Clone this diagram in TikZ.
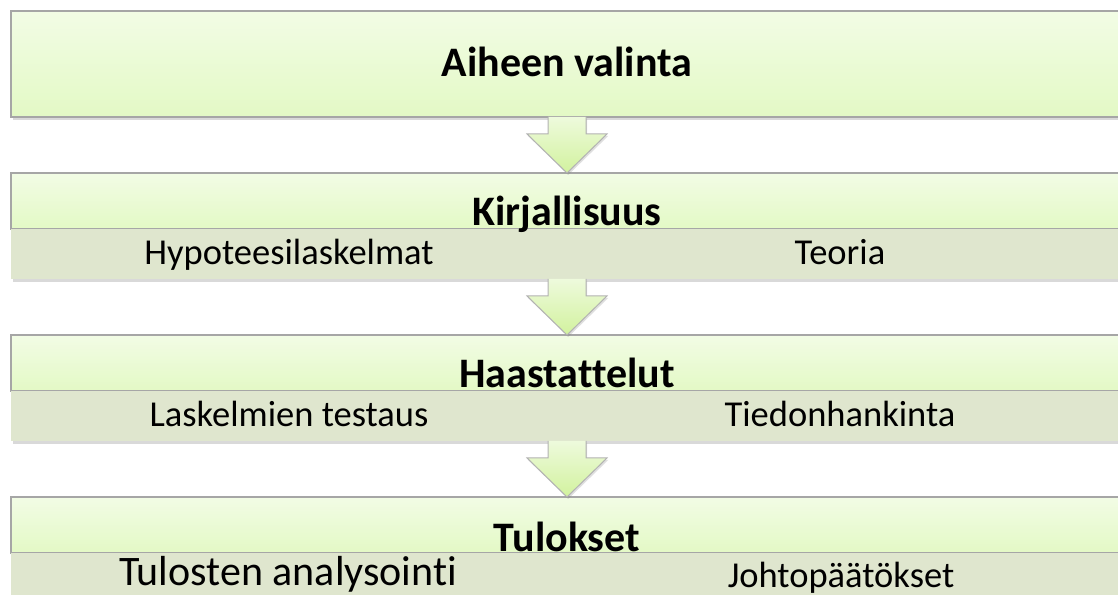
\documentclass[tikz,border=0pt]{standalone}
\usepackage{fontspec}
\setmainfont{Carlito}[Ligatures=NoCommon]
\usetikzlibrary{positioning,calc,shadows}
\definecolor{lite}{HTML}{F2FCE5}
\definecolor{deep}{HTML}{E3F9C5}
\definecolor{bandc}{HTML}{DFE6CE}
\definecolor{arrtop}{HTML}{EEFADC}
\definecolor{arrbot}{HTML}{D2F29E}

\begin{document}
\begin{tikzpicture}[x=0.5pt,y=0.5pt,
stage/.style={rectangle,draw=black!35,line width=0.7pt,top color=lite,bottom color=deep,
  minimum width=556pt,minimum height=28pt,inner sep=0pt,outer sep=0pt,
  drop shadow={shadow xshift=0.8pt,shadow yshift=-1.5pt,opacity=0.3}},
band/.style={rectangle,fill=bandc,minimum width=556pt,minimum height=25pt,inner sep=0pt,outer sep=0pt,
  drop shadow={shadow xshift=0.8pt,shadow yshift=-1.5pt,opacity=0.3}},
title/.style={font=\fontsize{21}{24}\selectfont\bfseries,anchor=base,inner sep=0pt},
item/.style={font=\fontsize{18.25}{21}\selectfont,anchor=base,inner sep=0pt},
bigitem/.style={font=\fontsize{21}{24}\selectfont,anchor=base,inner sep=0pt},
blockarr/.style={top color=arrtop,bottom color=arrbot,draw=black!30,line width=0.5pt,
  drop shadow={shadow xshift=0.6pt,shadow yshift=-1pt,opacity=0.25}}]
\useasboundingbox (0,0) rectangle (1118,594);
\node[stage,minimum height=53pt](aihe) at (567,530) {};
\node[stage,below=28pt of aihe](kirj) {};
\node[band,below=0pt of kirj](kirjb) {};
\node[stage,below=28pt of kirjb](haas) {};
\node[band,below=0pt of haas](haasb) {};
\node[stage,below=28pt of haasb](tulo) {};
\node[band,below=0pt of tulo](tulob) {};
\foreach \a/\b in {aihe/kirj,kirjb/haas,haasb/tulo}
  \shade[blockarr] ($(\a.south)+(-19,0)$) -- ($(\a.south)+(-19,-17)$) -- ($(\a.south)+(-40,-17)$)
    -- (\b.north) -- ($(\a.south)+(40,-17)$) -- ($(\a.south)+(19,-17)$) -- ($(\a.south)+(19,0)$);
\node[title](aiheT) at ([yshift=-6.5pt]aihe.center) {Aiheen valinta};
\node[title](kirjT) at ([yshift=1.5pt]kirj.south) {Kirjallisuus};
\node[item](hypo) at ([xshift=-139pt,yshift=-18pt]kirj.south) {Hypoteesilaskelmat};
\node[item](teor) at ([xshift=136.5pt,yshift=-18pt]kirj.south) {Teoria};
\node[title](haasT) at ([yshift=1.5pt]haas.south) {Haastattelut};
\node[item](lask) at ([xshift=-139pt,yshift=-18pt]haas.south) {Laskelmien testaus};
\node[item](tied) at ([xshift=136.5pt,yshift=-18pt]haas.south) {Tiedonhankinta};
\node[title](tuloT) at ([yshift=0.5pt]tulo.south) {Tulokset};
\node[bigitem](anal) at ([xshift=-139.5pt,yshift=-16pt]tulo.south) {Tulosten analysointi};
\node[item](joht) at ([xshift=137pt,yshift=-17pt]tulo.south) {Johtopäätökset};
\end{tikzpicture}
\end{document}
